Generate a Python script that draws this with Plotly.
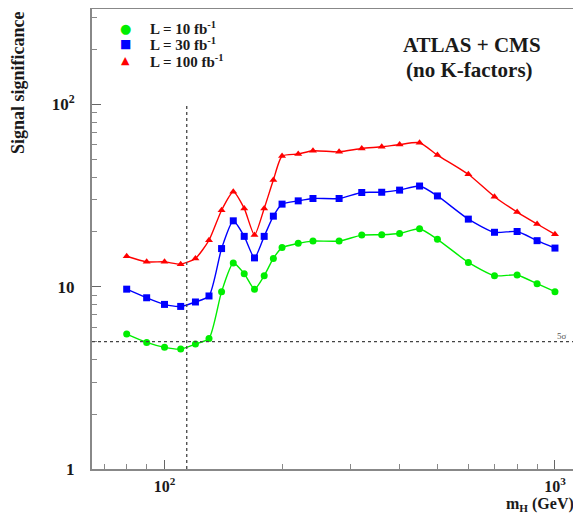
import numpy as np
import plotly.graph_objects as go

# Higgs mass points (GeV)
mass = [80, 90, 100, 110, 120, 130, 140, 150, 160, 170, 180, 190, 200, 220, 240,
        280, 320, 360, 400, 450, 500, 600, 700, 800, 900, 1000]

# Signal significance for each integrated luminosity
sig_10fb = [5.5, 4.95, 4.65, 4.55, 4.85, 5.2, 9.4, 13.5, 11.8, 9.7, 11.5, 14.3, 16.4,
            17.3, 17.8, 17.8, 19.2, 19.3, 19.6, 20.8, 18.2, 13.6, 11.5, 11.6, 10.4, 9.4]
sig_30fb = [9.7, 8.7, 8.0, 7.8, 8.25, 8.9, 16.2, 23.0, 18.9, 14.4, 18.9, 24.4, 28.4,
            29.6, 30.5, 30.5, 32.9, 33.0, 33.9, 35.7, 31.5, 23.5, 19.9, 20.1, 17.9, 16.3]
sig_100fb = [14.7, 13.7, 13.7, 13.3, 14.3, 18.0, 26.3, 33.2, 26.9, 19.2, 26.9, 38.5, 52.1,
             53.5, 55.7, 55.0, 57.4, 58.6, 60.3, 61.7, 52.8, 41.4, 31.2, 25.7, 22.1, 19.4]

series_names = ["L = 10 fb<sup>-1</sup>", "L = 30 fb<sup>-1</sup>", "L = 100 fb<sup>-1</sup>"]
series_colors = ["#00ee00", "#0000ff", "#ff0000"]
series_symbols = ["circle", "square", "triangle-up"]
legend_glyphs = ["●", "■", "▲"]
legend_glyph_sizes = [13, 12, 11]

LEP_LIMIT = 114      # GeV, vertical reference line
DISCOVERY = 5        # 5 sigma horizontal reference line

x_ticks = [100, 1000]
x_ticktext = ["10<sup>2</sup>", "10<sup>3</sup>"]
y_ticks = [1, 10, 100]
y_ticktext = ["1", "10", "10<sup>2</sup>"]

FONT = "Liberation Serif"
TXT = "#1a1a1a"

fig = go.Figure()
for ys, name, col, sym in zip([sig_10fb, sig_30fb, sig_100fb], series_names,
                              series_colors, series_symbols):
    fig.add_trace(go.Scatter(
        x=mass, y=ys, mode="lines+markers", name=name, showlegend=False,
        line=dict(color=col, width=1.4, shape="spline", smoothing=0.6),
        marker=dict(color=col, symbol=sym, size=7),
    ))

# reference lines
fig.add_shape(type="line", xref="x", yref="y", x0=LEP_LIMIT, x1=LEP_LIMIT, y0=1, y1=100,
              line=dict(color="#444", width=1.3, dash="dot"))
fig.add_shape(type="line", xref="paper", yref="y", x0=0, x1=1, y0=DISCOVERY, y1=DISCOVERY,
              line=dict(color="#444", width=1.3, dash="dot"))

minor_x = [70, 80, 90, 200, 300, 400, 500, 600, 700, 800, 900]
minor_y = [2, 3, 4, 5, 6, 7, 8, 9, 20, 30, 40, 50, 60, 70, 80, 90, 200, 300]

fig.update_xaxes(type="log", range=[np.log10(65.2), np.log10(1166)], automargin=False,
                 tickvals=x_ticks, ticktext=x_ticktext,
                 ticks="inside", ticklen=9, tickwidth=1, tickcolor="#666",
                 minor=dict(tickvals=minor_x, ticks="inside", ticklen=5, tickcolor="#888"),
                 showline=True, linecolor="#888", linewidth=2, mirror=True,
                 showgrid=False, zeroline=False, ticklabelstandoff=2,
                 tickfont=dict(family=FONT, size=16, color=TXT, weight="bold"))
fig.update_yaxes(type="log", range=[0, 2.524], automargin=False,
                 tickvals=y_ticks, ticktext=y_ticktext,
                 ticks="inside", ticklen=9, tickwidth=1, tickcolor="#666",
                 minor=dict(tickvals=minor_y, ticks="inside", ticklen=5, tickcolor="#888"),
                 showline=True, linecolor="#888", linewidth=2, mirror=False,
                 showgrid=False, zeroline=False, ticklabelstandoff=12,
                 tickfont=dict(family=FONT, size=17, color=TXT, weight="bold"))

# legend built as text
legend_rows_y = [0.958, 0.9233, 0.887]
for glyph, gsize, col, name, yy in zip(legend_glyphs, legend_glyph_sizes, series_colors,
                                        series_names, legend_rows_y):
    fig.add_annotation(xref="paper", yref="paper", x=0.0695, y=yy, text=glyph,
                       showarrow=False, xanchor="center", yanchor="middle",
                       font=dict(family="DejaVu Sans", size=gsize, color=col))
    fig.add_annotation(xref="paper", yref="paper", x=0.1145, y=yy, text=name,
                       showarrow=False, xanchor="left", yanchor="middle",
                       font=dict(family=FONT, size=15, color=TXT, weight="bold"))

fig.add_annotation(xref="paper", yref="paper", x=0.7771, y=0.9217, text="ATLAS + CMS",
                   showarrow=False, xanchor="center", yanchor="middle",
                   font=dict(family=FONT, size=21, color=TXT, weight="bold"))
fig.add_annotation(xref="paper", yref="paper", x=0.773, y=0.8674, text="(no K-factors)",
                   showarrow=False, xanchor="center", yanchor="middle",
                   font=dict(family=FONT, size=21, color=TXT, weight="bold"))
fig.add_annotation(xref="paper", yref="paper", x=-0.1513, y=0.839, text="Signal significance",
                   textangle=-90, showarrow=False, xanchor="center", yanchor="middle",
                   font=dict(family=FONT, size=18, color=TXT, weight="bold"))
fig.add_annotation(xref="paper", yref="paper", x=0.99, y=-0.077, xanchor="right", yanchor="middle",
                   text="m<sub>H</sub> (GeV)", showarrow=False,
                   font=dict(family=FONT, size=16, color=TXT, weight="bold"))
fig.add_annotation(xref="x", yref="y", x=np.log10(1043), y=np.log10(5.4),
                   xanchor="center", yanchor="middle",
                   text="5σ", showarrow=False, font=dict(family=FONT, size=9, color="#555"))

fig.update_layout(
    width=573, height=507,
    margin=dict(l=84, r=0, t=1, b=46),
    paper_bgcolor="white", plot_bgcolor="white",
    showlegend=False,
)

fig.write_html("out.html")
